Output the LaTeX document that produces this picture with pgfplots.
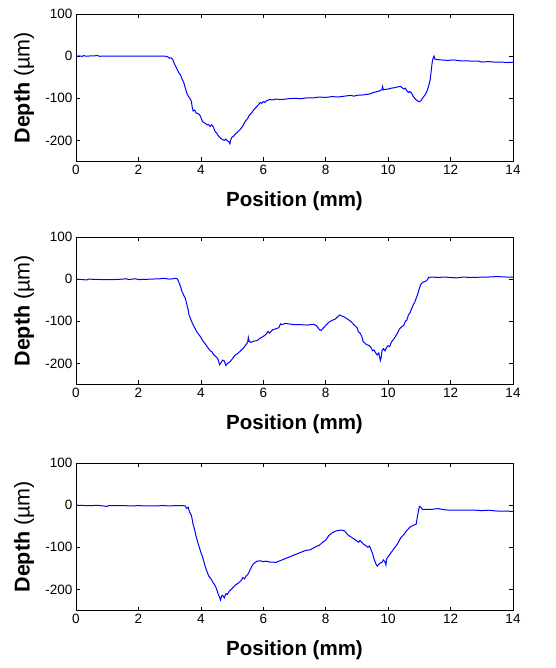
\documentclass[border=0pt]{standalone}
\usepackage{pgfplots}
\pgfplotsset{compat=1.18}
\usepackage{fontspec}
\setmainfont{Liberation Sans}

\pgfplotsset{
  profile/.style={
    scale only axis,
    width=437pt, height=147.5pt,
    xmin=0, xmax=14, ymin=-250, ymax=100,
    xtick={0,2,...,14}, ytick={-200,-100,0,100},
    tick align=inside,
    major tick length=4pt,
    axis line style={line width=0.7pt},
    every tick/.style={black, line width=0.6pt},
    /pgf/number format/assume math mode=true,
    tick label style={font=\fontsize{13.5}{15}\selectfont},
    xlabel={\bfseries Position (mm)},
    ylabel={\bfseries Depth\mdseries{} (µm)},
    xlabel style={font=\fontsize{20.5}{23}\selectfont,
      at={(axis description cs:0.5,-0.27)}, anchor=center},
    ylabel style={font=\fontsize{21.5}{24}\selectfont,
      at={(axis description cs:-0.119,0.5)}, anchor=center},
  },
  trace/.style={blue, line width=1pt, mark=none},
}

\begin{document}
\begin{tikzpicture}
\path[use as bounding box] (-76pt,14pt) rectangle (479pt,-654pt);

% Profile 1
\begin{axis}[profile, at={(0pt,0pt)}, anchor=north west]
\addplot[trace] coordinates {
(0,0) (0.1,0.5) (0.2,-0.5) (0.25,1.5) (0.3,0) (0.5,0.5) (0.7,1.2) (0.75,-0.3)
(1.0,0) (1.5,0.3) (2.0,0) (2.5,0.2) (2.85,0) (2.95,-2) (3.0,-5) (3.05,-4)
(3.1,-8) (3.15,-18) (3.2,-25) (3.3,-40) (3.35,-45) (3.4,-55) (3.45,-62) (3.5,-75)
(3.55,-88) (3.6,-95) (3.65,-100) (3.7,-108) (3.72,-120) (3.75,-130) (3.8,-128)
(3.85,-135) (3.9,-136) (3.95,-138) (4.0,-145) (4.05,-155) (4.1,-158) (4.15,-160)
(4.2,-163) (4.25,-162) (4.3,-167) (4.35,-163) (4.4,-168) (4.45,-178) (4.5,-182)
(4.55,-188) (4.6,-192) (4.65,-196) (4.7,-198) (4.75,-200) (4.8,-197) (4.85,-201)
(4.9,-203) (4.93,-208) (4.96,-198) (5.0,-192) (5.05,-190) (5.1,-185) (5.15,-182)
(5.2,-178) (5.25,-175) (5.3,-170) (5.35,-165) (5.4,-158) (5.45,-152) (5.5,-148)
(5.55,-140) (5.6,-137) (5.65,-132) (5.7,-127) (5.75,-123) (5.8,-119) (5.85,-115)
(5.9,-110) (5.95,-112) (6.0,-108) (6.05,-110) (6.1,-106) (6.2,-103) (6.3,-104)
(6.4,-102) (6.6,-103) (6.8,-101) (7.0,-100) (7.2,-101) (7.4,-99) (7.6,-99)
(7.8,-97) (8.0,-98) (8.2,-96) (8.4,-97) (8.6,-95) (8.8,-93) (8.9,-95) (9.0,-93)
(9.2,-92) (9.4,-90) (9.5,-87) (9.6,-85) (9.7,-83) (9.8,-80) (9.82,-72) (9.85,-80)
(9.9,-79) (10.0,-78) (10.1,-76) (10.2,-75) (10.3,-73) (10.4,-72) (10.45,-75)
(10.5,-78) (10.55,-76) (10.6,-82) (10.65,-86) (10.7,-84) (10.75,-88) (10.8,-95)
(10.85,-100) (10.9,-104) (10.95,-107) (11.0,-108) (11.05,-106) (11.1,-100)
(11.15,-95) (11.2,-90) (11.25,-82) (11.3,-70) (11.35,-55) (11.38,-35) (11.41,-15)
(11.44,-5) (11.47,0) (11.5,-7) (11.55,-8) (11.7,-9) (11.9,-10) (12.1,-9)
(12.3,-11) (12.5,-11) (12.7,-12) (12.9,-12) (13.0,-14) (13.2,-13) (13.4,-14)
(13.6,-14) (13.8,-15) (14.0,-15)
};
\end{axis}

% Profile 2
\begin{axis}[profile, at={(0pt,-223pt)}, anchor=north west]
\addplot[trace] coordinates {
(0,0) (0.2,-1) (0.35,-2) (0.4,0) (0.8,-1) (1.2,-1) (1.5,0) (1.6,1) (1.7,-1)
(1.9,1) (2.0,-1) (2.4,0) (2.7,1) (2.8,2) (3.0,0) (3.1,1) (3.2,2) (3.25,0)
(3.3,-8) (3.35,-18) (3.4,-30) (3.45,-38) (3.5,-45) (3.55,-60) (3.6,-75) (3.62,-85)
(3.65,-90) (3.7,-100) (3.75,-108) (3.8,-115) (3.85,-122) (3.9,-128) (3.95,-133)
(4.0,-138) (4.05,-145) (4.1,-150) (4.15,-155) (4.2,-160) (4.25,-165) (4.3,-170)
(4.35,-172) (4.4,-178) (4.45,-182) (4.5,-185) (4.55,-190) (4.6,-203) (4.65,-198)
(4.7,-192) (4.75,-194) (4.8,-205) (4.85,-200) (4.9,-198) (4.95,-195) (5.0,-190)
(5.05,-185) (5.1,-180) (5.15,-178) (5.2,-175) (5.3,-168) (5.35,-165) (5.4,-160)
(5.45,-155) (5.5,-150) (5.52,-138) (5.55,-148) (5.6,-150) (5.7,-147) (5.8,-146)
(5.9,-140) (6.0,-136) (6.1,-130) (6.15,-124) (6.2,-128) (6.3,-120) (6.4,-118)
(6.5,-115) (6.55,-106) (6.6,-108) (6.7,-105) (6.8,-106) (6.9,-107) (7.0,-108)
(7.2,-108) (7.4,-109) (7.6,-107) (7.7,-110) (7.75,-115) (7.8,-120) (7.85,-122)
(7.9,-118) (8.0,-110) (8.1,-102) (8.2,-98) (8.3,-95) (8.4,-88) (8.45,-85)
(8.5,-87) (8.6,-90) (8.7,-95) (8.8,-100) (8.9,-108) (9.0,-115) (9.05,-125)
(9.1,-128) (9.15,-135) (9.2,-148) (9.3,-155) (9.4,-158) (9.45,-162) (9.5,-170)
(9.55,-168) (9.6,-175) (9.65,-180) (9.7,-175) (9.75,-193) (9.78,-185) (9.8,-170)
(9.85,-165) (9.9,-170) (9.95,-162) (10.0,-158) (10.05,-160) (10.1,-150)
(10.2,-140) (10.3,-128) (10.35,-120) (10.4,-115) (10.45,-112) (10.5,-110)
(10.55,-100) (10.6,-97) (10.65,-85) (10.7,-80) (10.75,-70) (10.8,-62) (10.85,-55)
(10.9,-45) (10.95,-35) (11.0,-22) (11.05,-12) (11.1,-8) (11.2,-5) (11.25,-2)
(11.3,4) (11.4,5) (11.6,4) (11.8,5) (12.0,4) (12.2,3) (12.4,5) (12.6,4) (12.8,4)
(13.0,5) (13.2,5) (13.5,6) (13.8,5) (14.0,5)
};
\end{axis}

% Profile 3
\begin{axis}[profile, at={(0pt,-449pt)}, anchor=north west]
\addplot[trace] coordinates {
(0,0) (0.3,-1) (0.5,-1) (0.7,-0.5) (1.0,-3) (1.05,-1) (1.5,-1) (1.8,-2) (2.0,-1)
(2.2,-2) (2.5,-2) (2.8,-1) (3.0,-2) (3.2,-1) (3.4,-1) (3.5,-2) (3.55,-8)
(3.6,-5) (3.62,-12) (3.65,-18) (3.7,-25) (3.75,-45) (3.8,-58) (3.85,-75)
(3.9,-88) (3.95,-100) (4.0,-112) (4.05,-122) (4.1,-135) (4.15,-148) (4.2,-158)
(4.25,-168) (4.3,-172) (4.35,-178) (4.4,-185) (4.45,-190) (4.5,-198) (4.55,-210)
(4.6,-218) (4.63,-225) (4.67,-215) (4.7,-214) (4.75,-220) (4.8,-210) (4.85,-212)
(4.9,-205) (5.0,-198) (5.1,-190) (5.2,-185) (5.3,-178) (5.35,-172) (5.4,-175)
(5.45,-168) (5.5,-165) (5.55,-158) (5.6,-150) (5.65,-143) (5.7,-138) (5.8,-133)
(5.9,-132) (6.0,-134) (6.1,-133) (6.2,-135) (6.3,-135) (6.4,-136) (6.5,-133)
(6.6,-130) (6.7,-127) (6.8,-124) (6.9,-121) (7.0,-118) (7.1,-115) (7.2,-112)
(7.3,-109) (7.4,-107) (7.5,-106) (7.6,-102) (7.7,-98) (7.8,-95) (7.9,-88)
(8.0,-83) (8.1,-72) (8.2,-66) (8.3,-62) (8.4,-60) (8.5,-59) (8.6,-61) (8.65,-65)
(8.7,-70) (8.8,-75) (8.9,-80) (9.0,-85) (9.05,-88) (9.1,-84) (9.2,-92) (9.3,-97)
(9.35,-100) (9.4,-97) (9.45,-105) (9.5,-115) (9.55,-128) (9.6,-138) (9.65,-145)
(9.7,-140) (9.75,-137) (9.8,-136) (9.85,-130) (9.9,-135) (9.93,-142) (9.95,-128)
(10.0,-122) (10.1,-112) (10.2,-102) (10.3,-92) (10.35,-85) (10.4,-78) (10.5,-70)
(10.6,-60) (10.7,-52) (10.8,-48) (10.9,-45) (10.93,-30) (10.97,-15) (11.0,-3)
(11.05,-5) (11.1,-10) (11.2,-10) (11.4,-10) (11.6,-8) (11.8,-11) (12.0,-12)
(12.4,-12) (12.8,-12) (13.0,-13) (13.2,-12) (13.5,-14) (13.8,-14) (14.0,-15)
};
\end{axis}
\end{tikzpicture}
\end{document}
